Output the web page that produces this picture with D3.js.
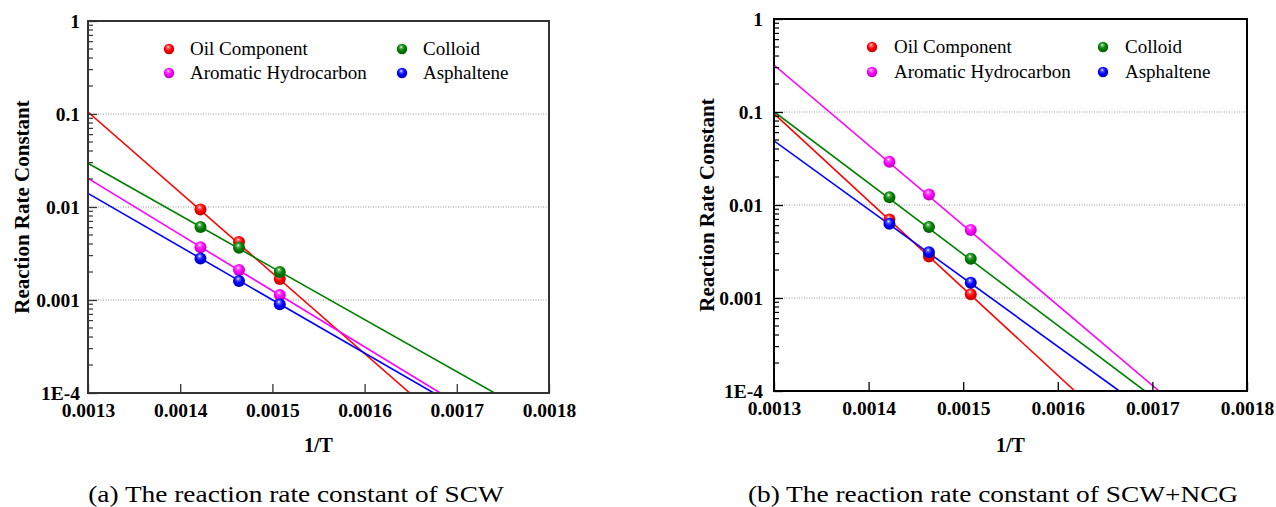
<!DOCTYPE html>
<html><head><meta charset="utf-8">
<script src="https://cdn.jsdelivr.net/npm/d3@7"></script>
<style>body{margin:0;background:#fff;} svg{display:block;}</style>
</head><body>
<svg id="c" width="1276" height="507"></svg>
<script>
// ---- data ----
const seriesNames = ["Oil Component", "Colloid", "Aromatic Hydrocarbon", "Asphaltene"];
const seriesColors = ["#ff0000", "#008000", "#ff00ff", "#0000ff"];
const invT = [0.001422, 0.0014638, 0.001508];
// Panel (a) SCW
const scwOil = [0.0094, 0.0042, 0.00168];
const scwColloid = [0.0061, 0.00365, 0.0020];
const scwAromatic = [0.0037, 0.0021, 0.00113];
const scwAsphaltene = [0.0028, 0.0016, 0.0009];
// fitted lines: value at 1/T = 0.0013 and the 1/T where the line reaches 1E-4
const scwFitStart = [0.105, 0.0295, 0.0203, 0.0140];
const scwFitEndX = [0.001649, 0.001741, 0.001682, 0.001675];
// Panel (b) SCW+NCG
const ncgOil = [0.0070, 0.0028, 0.0011];
const ncgColloid = [0.0121, 0.0058, 0.00265];
const ncgAromatic = [0.0292, 0.0130, 0.0054];
const ncgAsphaltene = [0.0063, 0.0031, 0.00146];
const ncgFitStart = [0.096, 0.1007, 0.32, 0.049];
const ncgFitEndX = [0.001618, 0.001692, 0.001707, 0.001665];

const xTicks = [0.0013, 0.0014, 0.0015, 0.0016, 0.0017, 0.0018];
const yTicks = [1e-4, 0.001, 0.01, 0.1, 1];
const yTickLabels = ["1E-4", "0.001", "0.01", "0.1", "1"];
const gridValues = [0.001, 0.01, 0.1];
const captions = ["(a) The reaction rate constant of SCW", "(b) The reaction rate constant of SCW+NCG"];

const serif = "Liberation Serif";
const svg = d3.select("#c");
const defs = svg.append("defs");
seriesColors.forEach((c, i) => {
  const g = defs.append("radialGradient").attr("id", "sph" + i)
    .attr("cx", "0.45").attr("cy", "0.4").attr("r", "0.6").attr("fx", "0.42").attr("fy", "0.3");
  g.append("stop").attr("offset", "0").attr("stop-color", "#ffffff");
  g.append("stop").attr("offset", "0.22").attr("stop-color", d3.interpolateRgb(c, "#ffffff")(0.35));
  g.append("stop").attr("offset", "0.55").attr("stop-color", c);
  g.append("stop").attr("offset", "1").attr("stop-color", d3.color(c).darker(0.9));
});

function panel(opt) {
  const {x0, x1, yTop, yBot, seriesVals, fitStart, fitEndX, legend, frameColor, caption, capX, ytitleX, yPad} = opt;
  const x = d3.scaleLinear().domain([0.0013, 0.0018]).range([x0, x1]);
  const y = d3.scaleLog().domain([1e-4, 1]).range([yBot, yTop]);
  const g = svg.append("g");

  g.selectAll(".grid").data(gridValues).enter().append("line")
    .attr("x1", x0).attr("x2", x1).attr("y1", d => y(d)).attr("y2", d => y(d))
    .attr("stroke", "#999").attr("stroke-width", 1).attr("stroke-dasharray", "1,1.5");

  const cid = "clip" + x0;
  defs.append("clipPath").attr("id", cid).append("rect")
    .attr("x", x0).attr("y", yTop).attr("width", x1 - x0).attr("height", yBot - yTop);

  seriesNames.forEach((n, i) => {
    g.append("line").attr("clip-path", `url(#${cid})`)
      .attr("x1", x(0.0013)).attr("y1", y(fitStart[i]))
      .attr("x2", x(fitEndX[i])).attr("y2", y(1e-4))
      .attr("stroke", seriesColors[i]).attr("stroke-width", 1.6);
  });

  const yAxis = d3.axisLeft(y).tickValues(yTicks).tickFormat((d, i) => yTickLabels[i])
    .tickSizeInner(-9).tickSizeOuter(0).tickPadding(yPad);
  const ya = g.append("g").attr("transform", `translate(${x0},0)`).call(yAxis);
  const minor = [];
  for (let e = -4; e < 0; e++) for (let m = 2; m <= 9; m++) minor.push(m * Math.pow(10, e));
  g.selectAll(".minor").data(minor).enter().append("line")
    .attr("x1", x0).attr("x2", x0 + 5).attr("y1", d => y(d)).attr("y2", d => y(d))
    .attr("stroke", frameColor).attr("stroke-width", 1.2);
  const xAxis = d3.axisBottom(x).tickValues(xTicks).tickFormat(d3.format(".4f"))
    .tickSizeInner(-9).tickSizeOuter(0).tickPadding(10);
  const xa = g.append("g").attr("transform", `translate(0,${yBot})`).call(xAxis);
  [ya, xa].forEach(a => {
    a.attr("font-family", serif).attr("font-size", 19.5).attr("font-weight", "bold");
    a.select(".domain").remove();
    a.selectAll("line").attr("stroke", frameColor).attr("stroke-width", 1.3);
    a.selectAll("text").attr("fill", "#000");
  });
  xa.selectAll("text").attr("dy", "0.71em");
  ya.selectAll("text").attr("dy", "0.34em");

  g.append("rect").attr("x", x0).attr("y", yTop).attr("width", x1 - x0).attr("height", yBot - yTop)
    .attr("fill", "none").attr("stroke", frameColor).attr("stroke-width", 2);

  seriesNames.forEach((n, i) => {
    g.selectAll(".pt" + i).data(seriesVals[i]).enter().append("circle")
      .attr("cx", (d, j) => x(invT[j])).attr("cy", d => y(d)).attr("r", 6)
      .attr("fill", `url(#sph${i})`);
  });

  [0, 1, 2, 3].forEach(i => {
    const col = i % 2, row = Math.floor(i / 2);
    const lx = legend.mx[col], ly = legend.y[row];
    g.append("circle").attr("cx", lx).attr("cy", ly).attr("r", 5.2).attr("fill", `url(#sph${i})`);
    g.append("text").attr("x", legend.tx[col]).attr("y", ly).attr("dy", "0.33em")
      .attr("font-family", serif).attr("font-size", 19).text(seriesNames[i]);
  });

  g.append("text").attr("x", (x0 + x1) / 2).attr("y", 452).attr("text-anchor", "middle")
    .attr("font-family", serif).attr("font-weight", "bold").attr("font-size", 20).text("1/T");
  g.append("text").attr("transform", `translate(${ytitleX},${(yTop + yBot) / 2}) rotate(-90)`)
    .attr("text-anchor", "middle").attr("font-family", serif).attr("font-weight", "bold")
    .attr("font-size", 21).text("Reaction Rate Constant");
  g.append("text").attr("transform", `translate(${capX},502) scale(1.14,1)`).attr("text-anchor", "middle")
    .attr("font-family", serif).attr("font-size", 24).text(caption);
}

panel({x0: 88, x1: 549, yTop: 21, yBot: 393,
  seriesVals: [scwOil, scwColloid, scwAromatic, scwAsphaltene],
  fitStart: scwFitStart, fitEndX: scwFitEndX,
  legend: {mx: [169, 402], tx: [190, 423], y: [49, 73]},
  frameColor: "#333", caption: captions[0], capX: 296, ytitleX: 29, yPad: 8});
panel({x0: 774, x1: 1247, yTop: 19, yBot: 391,
  seriesVals: [ncgOil, ncgColloid, ncgAromatic, ncgAsphaltene],
  fitStart: ncgFitStart, fitEndX: ncgFitEndX,
  legend: {mx: [872, 1103], tx: [894, 1125], y: [47, 72]},
  frameColor: "#000", caption: captions[1], capX: 993, ytitleX: 714, yPad: 11});
</script>
</body></html>
